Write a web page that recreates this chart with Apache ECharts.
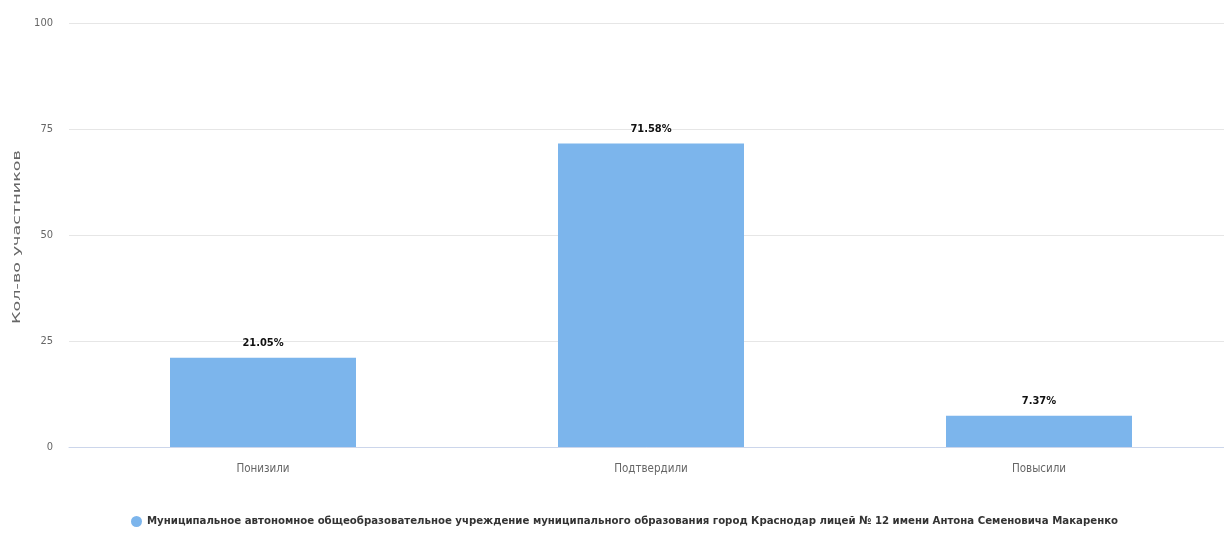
<!DOCTYPE html>
<html><head><meta charset="utf-8">
<script src="https://cdn.jsdelivr.net/npm/echarts@6/dist/echarts.min.js"></script>
<style>html,body{margin:0;padding:0;background:#fff}#c{width:1224px;height:533px}</style>
</head><body><div id="c"></div>
<script>
var categories = ['Понизили', 'Подтвердили', 'Повысили'];
var values = [21.05, 71.58, 7.37];
var seriesName = 'Муниципальное автономное общеобразовательное учреждение муниципального образования город Краснодар лицей № 12 имени Антона Семеновича Макаренко';
var yTicks = [0, 25, 50, 75, 100];
var yAxisName = 'Кол-во участников';
var NARROW = "'Liberation Sans Narrow', 'DejaVu Sans Condensed', sans-serif";

var chart = echarts.init(document.getElementById('c'));
chart.setOption({
  animation: false,
  grid: { left: 69, width: 1164, top: 23, bottom: 86, containLabel: false, outerBoundsMode: 'none' },
  legend: {
    bottom: 1, left: 126,
    icon: 'path://M50,0A50,50,0,1,1,50,100A50,50,0,1,1,50,0Z',
    itemWidth: 11, itemHeight: 15, itemGap: 8,
    textStyle: { fontFamily: NARROW, fontSize: 11.3, fontWeight: 'bold', color: '#333' },
    data: [seriesName]
  },
  graphic: [{
    type: 'text', x: 17, y: 237, rotation: Math.PI / 2,
    scaleX: 1.6,
    style: { text: yAxisName, font: '11px "DejaVu Sans"', fill: '#666', align: 'center', verticalAlign: 'middle' }
  }],
  xAxis: {
    type: 'category', data: categories,
    axisLine: { lineStyle: { color: '#ccd6eb' } },
    axisTick: { show: false },
    axisLabel: { margin: 16, fontFamily: NARROW, fontSize: 11.5, color: '#666' }
  },
  yAxis: {
    type: 'value', min: yTicks[0], max: yTicks[yTicks.length - 1], interval: 25,
    axisLine: { show: false }, axisTick: { show: false },
    splitLine: { lineStyle: { color: '#e6e6e6' } },
    axisLabel: { margin: 16, fontFamily: NARROW, fontSize: 11, color: '#666' }
  },
  series: [{
    name: seriesName, type: 'bar', data: values, barWidth: 186,
    itemStyle: { color: '#7cb5ec' },
    label: {
      show: true, position: 'top', distance: 9,
      formatter: function (p) { return p.value + '%'; },
      fontFamily: NARROW, fontSize: 11, fontWeight: 'bold', color: '#111',
      textBorderColor: '#fff', textBorderWidth: 2
    }
  }]
});
</script></body></html>
